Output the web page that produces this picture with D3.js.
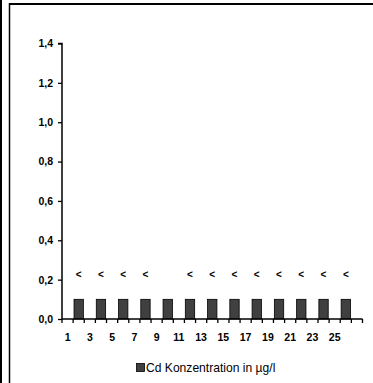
<!DOCTYPE html>
<html><head><meta charset="utf-8">
<script src="https://cdn.jsdelivr.net/npm/d3@7"></script>
<style>body{margin:0;background:#fff}svg{display:block}</style>
</head><body>
<script>
const categories = d3.range(1, 28).map(String);
const values = [null,0.1,null,0.1,null,0.1,null,0.1,null,0.1,null,0.1,null,0.1,null,0.1,null,0.1,null,0.1,null,0.1,null,0.1,null,0.1,null];
const labels = [null,"<",null,"<",null,"<",null,"<",null,null,null,"<",null,"<",null,"<",null,"<",null,"<",null,"<",null,"<",null,"<",null];
const yTicks = [0,0.2,0.4,0.6,0.8,1.0,1.2,1.4];
const xTickLabels = ["1","3","5","7","9","11","13","15","17","19","21","23","25"];
const seriesName = "Cd Konzentration in µg/l";

const W = 373, H = 383;
const svg = d3.select("body").append("svg").attr("width", W).attr("height", H);

// frame
svg.append("line").attr("x1",1).attr("x2",1).attr("y1",0).attr("y2",H).attr("stroke","#000").attr("stroke-width",2);
svg.append("line").attr("x1",9.5).attr("x2",9.5).attr("y1",3).attr("y2",H).attr("stroke","#000").attr("stroke-width",1.5);
svg.append("line").attr("x1",9).attr("x2",W).attr("y1",4).attr("y2",4).attr("stroke","#000").attr("stroke-width",2);

const x = d3.scaleBand().domain(categories).range([62, 362.5]).paddingInner(0.16).paddingOuter(0.08);
const y = d3.scaleLinear().domain([0, 1.4]).range([319, 43.5]);
const fmt = d => d3.format(".1f")(d).replace(".", ",");

// bars
const data = categories.map((c,i)=>({c, v: values[i], l: labels[i]}));
svg.append("g").selectAll("rect").data(data.filter(d=>d.v!=null)).join("rect")
  .attr("x", d=>x(d.c)).attr("width", x.bandwidth())
  .attr("y", d=>y(d.v)).attr("height", d=>y(0)-y(d.v))
  .attr("fill","#404040").attr("stroke","#000").attr("stroke-width",0.8);

// data labels
svg.append("g").selectAll("text").data(data.filter(d=>d.l)).join("text")
  .attr("x", d=>x(d.c)+x.bandwidth()/2).attr("y", 277.5)
  .attr("text-anchor","middle").attr("font-family","Liberation Sans, Arial, sans-serif")
  .attr("font-weight","bold").attr("font-size",10).text(d=>d.l);

// y axis
const yAxis = d3.axisLeft(y).tickValues(yTicks).tickFormat(fmt).tickSize(4).tickPadding(5);
const gy = svg.append("g").attr("transform","translate(62,0)").call(yAxis);
gy.select(".domain").attr("d", `M-4,${y(1.4)}H0V${y(0)}`).attr("stroke-width",1.5);
gy.selectAll(".tick line").attr("stroke-width",1.3);
gy.selectAll("text").attr("font-family","Liberation Sans, Arial, sans-serif").attr("font-weight","bold").attr("font-size",10.5).attr("fill","#000");

// x axis: ticks at band boundaries
const boundaries = d3.range(0, categories.length+1).map(i => 62 + i*(300.5/categories.length));
const gx = svg.append("g");
gx.append("line").attr("x1",62).attr("x2",362.5).attr("y1",y(0)).attr("y2",y(0)).attr("stroke","#000").attr("stroke-width",1.5);
gx.selectAll("line.t").data(boundaries).join("line").attr("class","t")
  .attr("x1",d=>d).attr("x2",d=>d).attr("y1",y(0)).attr("y2",y(0)+4).attr("stroke","#000").attr("stroke-width",1.3);
gx.selectAll("text").data(xTickLabels).join("text")
  .attr("x", d=>x(d)+x.bandwidth()/2).attr("y", 341)
  .attr("text-anchor","middle").attr("font-family","Liberation Sans, Arial, sans-serif")
  .attr("font-weight","bold").attr("font-size",10.5).text(d=>d);

// legend
const lg = svg.append("g");
lg.append("rect").attr("x",136.5).attr("y",363.5).attr("width",8).attr("height",8).attr("fill","#404040").attr("stroke","#000").attr("stroke-width",0.8);
lg.append("text").attr("x",146).attr("y",372).attr("font-family","Liberation Sans, Arial, sans-serif")
  .attr("font-size",12.1).attr("fill","#000").text(seriesName);
</script>
</body></html>
